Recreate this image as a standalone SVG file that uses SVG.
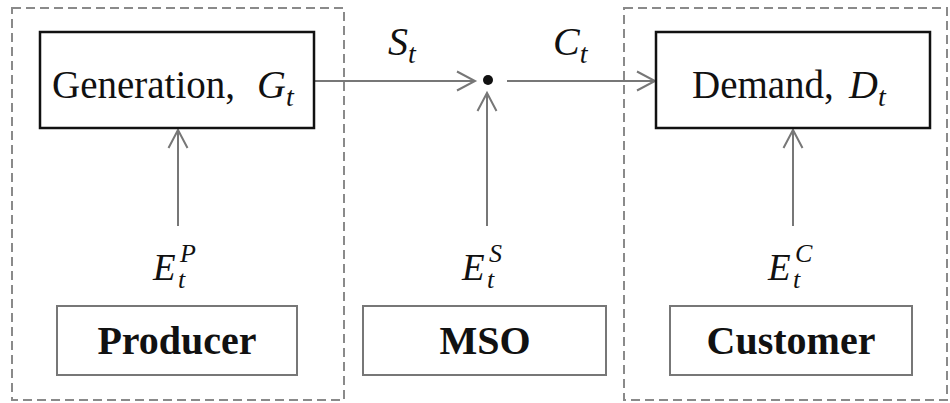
<svg xmlns="http://www.w3.org/2000/svg" width="950" height="403" viewBox="0 0 950 403">
<style>
.group{fill:none;stroke:#8a8a8a;stroke-width:2;stroke-dasharray:9 5}
.main{fill:#fff;stroke:#111;stroke-width:2.5}
.role{fill:#fff;stroke:#777;stroke-width:2}
.conn{fill:none;stroke:#777;stroke-width:2}
.lab{font-family:"Liberation Serif","Times New Roman",serif;font-size:39px;fill:#111}
.math{font-family:"Liberation Serif","Times New Roman",serif;font-style:italic;fill:#111}
.bold{font-family:"Liberation Serif","Times New Roman",serif;font-weight:bold;font-size:40px;fill:#111}
</style>
<defs>
<marker id="chev" markerUnits="userSpaceOnUse" markerWidth="24" markerHeight="24" refX="20" refY="12" orient="auto" viewBox="0 0 24 24">
<path d="M 2 2.5 L 20 12 L 2 21.5" fill="none" stroke="#777" stroke-width="2"/>
</marker>
</defs>
<rect width="950" height="403" fill="#fff"/>
<g id="producer-group"><rect class="group" x="12" y="8" width="332" height="392"/></g>
<g id="customer-group"><rect class="group" x="624" y="8" width="323" height="392"/></g>
<g id="connectors">
<line class="conn" x1="314" y1="81" x2="475" y2="81" marker-end="url(#chev)"/>
<line class="conn" x1="507" y1="81" x2="655" y2="81" marker-end="url(#chev)"/>
<line class="conn" x1="178" y1="226" x2="178" y2="130" marker-end="url(#chev)"/>
<line class="conn" x1="487" y1="226" x2="487" y2="93" marker-end="url(#chev)"/>
<line class="conn" x1="793" y1="226" x2="793" y2="130" marker-end="url(#chev)"/>
<circle cx="488" cy="80" r="5" fill="#111"/>
<text class="math" x="388" y="55" font-size="40">S<tspan font-size="28" dy="8">t</tspan></text>
<text class="math" x="553" y="55" font-size="40">C<tspan font-size="28" dy="8">t</tspan></text>
</g>
<g id="generation">
<rect class="main" x="40" y="32" width="274" height="96"/>
<text class="lab" x="52" y="98">Generation,<tspan class="math" x="257" font-size="40">G</tspan><tspan class="math" font-size="28" dy="8">t</tspan></text>
</g>
<g id="demand">
<rect class="main" x="656" y="32" width="274" height="96"/>
<text class="lab" x="692" y="98">Demand,<tspan class="math" x="849" font-size="40">D</tspan><tspan class="math" font-size="28" dy="8">t</tspan></text>
</g>
<g id="ep"><text class="math" x="153" y="280" font-size="37">E<tspan font-size="26" x="178" dy="8">t</tspan><tspan font-size="26" x="180" dy="-26">P</tspan></text></g>
<g id="es"><text class="math" x="462" y="280" font-size="37">E<tspan font-size="26" x="487" dy="8">t</tspan><tspan font-size="26" x="489" dy="-26">S</tspan></text></g>
<g id="ec"><text class="math" x="768" y="280" font-size="37">E<tspan font-size="26" x="793" dy="8">t</tspan><tspan font-size="26" x="795" dy="-26">C</tspan></text></g>
<g id="producer"><rect class="role" x="57" y="306" width="240" height="69"/><text class="bold" x="177" y="354" text-anchor="middle">Producer</text></g>
<g id="mso"><rect class="role" x="363" y="306" width="243" height="69"/><text class="bold" x="485" y="354" text-anchor="middle">MSO</text></g>
<g id="customer"><rect class="role" x="670" y="306" width="242" height="69"/><text class="bold" x="791" y="354" text-anchor="middle">Customer</text></g>
</svg>
